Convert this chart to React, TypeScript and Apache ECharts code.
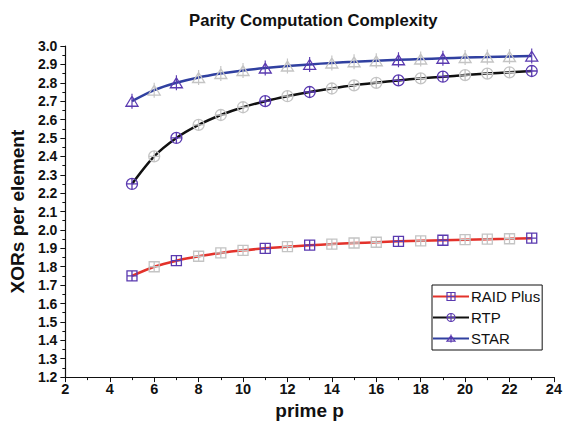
import React, { useEffect, useRef } from "react";
import * as echarts from "echarts";

const primes = [5, 6, 7, 8, 9, 10, 11, 12, 13, 14, 15, 16, 17, 18, 19, 20, 21, 22, 23];
const highlighted = [5, 7, 11, 13, 17, 19, 23];
const raidPlus = [1.75, 1.8, 1.833, 1.857, 1.875, 1.889, 1.9, 1.909, 1.917, 1.923, 1.929, 1.933, 1.938, 1.941, 1.944, 1.947, 1.95, 1.952, 1.955];
const rtp = [2.25, 2.4, 2.5, 2.571, 2.625, 2.667, 2.7, 2.727, 2.75, 2.769, 2.786, 2.8, 2.813, 2.824, 2.833, 2.842, 2.85, 2.857, 2.864];
const star = [2.7, 2.76, 2.8, 2.829, 2.85, 2.867, 2.88, 2.891, 2.9, 2.908, 2.914, 2.92, 2.925, 2.929, 2.933, 2.937, 2.94, 2.943, 2.945];

const FONT = "'Liberation Sans', Arial, Helvetica, sans-serif";
const MARK = "#5a3ab0";
const GRAY = "#c4c4c4";

const SQ = "path://M0 0H10V10H0Z M5 0V10 M0 5H10";
const CI = "path://M0 5A5 5 0 1 1 10 5A5 5 0 1 1 0 5Z M5 0V10 M0 5H10";
const TR = "path://M1 10L5 2L9 10Z M5 0V12";

function mk(name: string, vals: number[], color: string, symbol: string, size: number | number[]) {
  return {
    name,
    type: "line",
    smooth: 0.3,
    symbol,
    symbolSize: size,
    showAllSymbol: true,
    lineStyle: { color, width: 2.5 },
    itemStyle: { color: "transparent", borderColor: MARK, borderWidth: 1.3 },
    data: primes.map((p, i) => ({
      value: [p, vals[i]],
      itemStyle: highlighted.includes(p)
        ? { color: "transparent", borderColor: MARK, borderWidth: 1.3 }
        : { color: "transparent", borderColor: GRAY, borderWidth: 1.3 },
    })),
  };
}

export default function App() {
  const ref = useRef<HTMLDivElement>(null);
  useEffect(() => {
    const chart = echarts.init(ref.current!, null, { renderer: "svg" });
    chart.setOption({
      animation: false,
      backgroundColor: "#fff",
      title: {
        text: "Parity Computation Complexity",
        left: 184,
        top: 7,
        textStyle: { fontFamily: FONT, fontSize: 16.7, fontWeight: "bold", color: "#111" },
      },
      grid: { left: 65, right: 6, top: 46, bottom: 46 },
      legend: {
        left: 432,
        top: 285,
        width: 106,
        orient: "vertical",
        itemGap: 6,
        itemWidth: 36,
        itemHeight: 10,
        padding: [4, 2, 4, 0],
        borderColor: "#111",
        borderWidth: 1,
        borderRadius: 0,
        backgroundColor: "#fff",
        itemStyle: { color: "transparent", borderColor: MARK, borderWidth: 1.2 },
        textStyle: { fontFamily: FONT, fontSize: 15, color: "#111", padding: [0, 0, 0, -3] },
        data: ["RAID Plus", "RTP", "STAR"],
      },
      xAxis: {
        type: "value",
        min: 2,
        max: 24,
        interval: 2,
        name: "prime p",
        nameLocation: "middle",
        nameGap: 23,
        nameTextStyle: { fontFamily: FONT, fontSize: 19, fontWeight: "bold", color: "#111" },
        axisLine: { lineStyle: { color: "#111", width: 1.2 } },
        axisTick: { length: 5, lineStyle: { color: "#111" } },
        minorTick: { show: true, splitNumber: 2, length: 3, lineStyle: { color: "#111" } },
        splitLine: { show: false },
        axisLabel: { fontFamily: FONT, fontSize: 14.5, fontWeight: "bold", color: "#111", margin: 4 },
      },
      yAxis: {
        type: "value",
        min: 1.2,
        max: 3.0,
        interval: 0.1,
        name: "XORs per element",
        nameLocation: "middle",
        nameGap: 37,
        nameTextStyle: { fontFamily: FONT, fontSize: 19, fontWeight: "bold", color: "#111" },
        axisLine: { show: true, lineStyle: { color: "#111", width: 1.2 } },
        axisTick: { show: true, length: 5, lineStyle: { color: "#111" } },
        minorTick: { show: true, splitNumber: 2, length: 3, lineStyle: { color: "#111" } },
        splitLine: { show: false },
        axisLabel: {
          fontFamily: FONT,
          fontSize: 14,
          fontWeight: "bold",
          color: "#111",
          margin: 8,
          formatter: (v: number) => v.toFixed(1),
        },
      },
      series: [
        mk("RAID Plus", raidPlus, "#e3322b", SQ, 10),
        mk("RTP", rtp, "#111111", CI, 11),
        mk("STAR", star, "#3040a0", TR, [12, 15]),
      ],
    });
    return () => chart.dispose();
  }, []);
  return (
    <div
      ref={ref}
      style={{ position: "absolute", left: 0, top: 0, width: 565, height: 425 }}
    />
  );
}
